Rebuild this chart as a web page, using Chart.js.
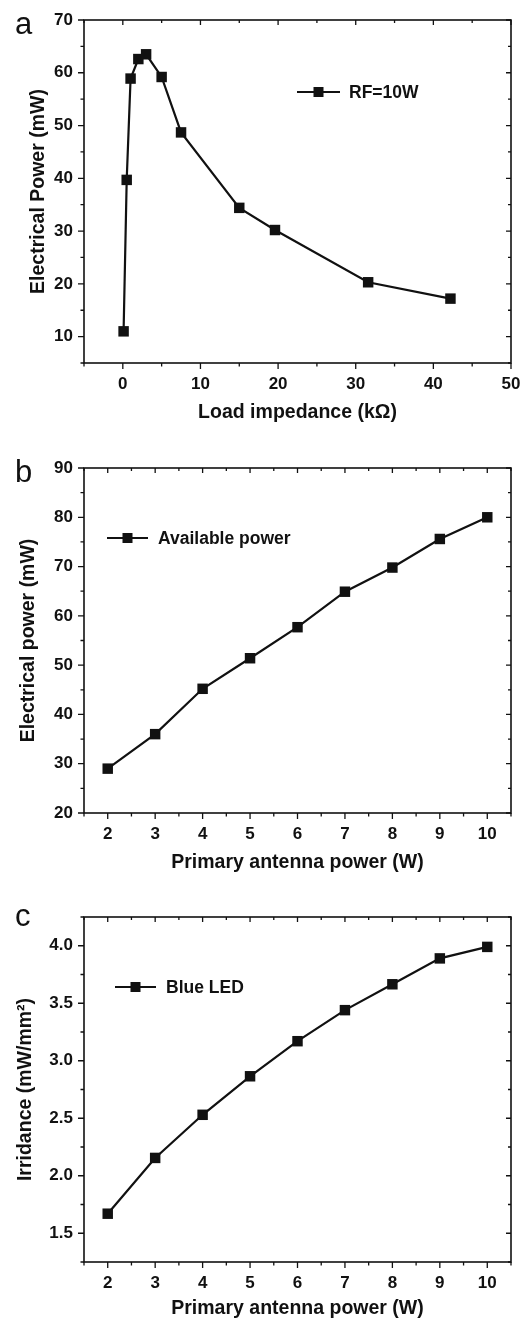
<!DOCTYPE html>
<html>
<head>
<meta charset="utf-8">
<script src="https://cdn.jsdelivr.net/npm/chart.js@4.4.1/dist/chart.umd.min.js"></script>
<style>
  body { margin: 0; background: #fff; width: 524px; height: 1319px; position: relative; overflow: hidden;
         font-family: 'Liberation Sans', Arial, sans-serif; }
  canvas { position: absolute; left: 0; }
  .tag { position: absolute; left: 15px; font-size: 31px; line-height: 31px; color: #111; }
</style>
</head>
<body>
<canvas id="chartA" width="524" height="440" style="top:0px"></canvas>
<canvas id="chartB" width="524" height="440" style="top:440px"></canvas>
<canvas id="chartC" width="524" height="439" style="top:880px"></canvas>
<div class="tag" style="top:8px">a</div>
<div class="tag" style="top:456px">b</div>
<div class="tag" style="top:900px">c</div>
<script>
// Panel a: power vs load impedance
const impedanceK = [0.1, 0.5, 1, 2, 3, 5, 7.5, 15, 19.6, 31.6, 42.2];
const powerRF10 = [11.0, 39.7, 58.9, 62.6, 63.5, 59.2, 48.7, 34.4, 30.2, 20.3, 17.2];
const axisA_x = [-5, 50, 10, 5];   // min, max, major, minor
const axisA_y = [5, 70, 10, 5];

// Panel b + c: vs primary antenna power
const antennaPower = [2, 3, 4, 5, 6, 7, 8, 9, 10];
const availablePower = [29.0, 36.0, 45.2, 51.4, 57.7, 64.9, 69.8, 75.6, 80.0];
const blueLedIrradiance = [1.67, 2.155, 2.53, 2.865, 3.17, 3.44, 3.665, 3.89, 3.99];
const axisB_x = [1.5, 10.5, 1, 0.5];
const axisB_y = [20, 90, 10, 5];
const axisC_y = [1.25, 4.25, 0.5, 0.25];

const FONT = "'Liberation Sans', Arial, sans-serif";
const INK = '#111';

// major tick values inside [min, max]
function majorTicks(ax) {
  const out = [];
  for (let v = Math.ceil(ax[0] / ax[2] - 1e-9) * ax[2]; v <= ax[1] + 1e-9; v += ax[2]) {
    out.push({ value: +v.toFixed(6) });
  }
  return out;
}

// frame box + Origin-style ticks (outward on left/bottom, inward on top/right)
const frameTicks = {
  id: 'frameTicks',
  afterDraw(chart, args, opts) {
    const {ctx, chartArea: a, scales: {x, y}} = chart;
    ctx.save();
    ctx.strokeStyle = INK;
    ctx.lineWidth = 1.6;
    ctx.strokeRect(a.left, a.top, a.right - a.left, a.bottom - a.top);
    ctx.lineWidth = 1.3;
    ctx.beginPath();
    const isMajor = (v, m) => Math.abs(v / m - Math.round(v / m)) < 1e-6;
    let start = Math.ceil(x.min / opts.x[3] - 1e-9) * opts.x[3];
    for (let v = start; v <= x.max + 1e-9; v += opts.x[3]) {
      const px = x.getPixelForValue(v);
      const big = isMajor(v, opts.x[2]);
      ctx.moveTo(px, a.bottom); ctx.lineTo(px, a.bottom + (big ? 6 : 3.5));
      ctx.moveTo(px, a.top); ctx.lineTo(px, a.top + (big ? 5 : 3));
    }
    start = Math.ceil(y.min / opts.y[3] - 1e-9) * opts.y[3];
    for (let v = start; v <= y.max + 1e-9; v += opts.y[3]) {
      const py = y.getPixelForValue(v);
      const big = isMajor(v, opts.y[2]);
      ctx.moveTo(a.left, py); ctx.lineTo(a.left - (big ? 6 : 3.5), py);
      ctx.moveTo(a.right, py); ctx.lineTo(a.right - (big ? 5 : 3), py);
    }
    ctx.stroke();

    // legend: line - square - line, then label
    const lg = opts.legend;
    ctx.lineWidth = 2;
    ctx.beginPath();
    ctx.moveTo(lg.x1, lg.y); ctx.lineTo(lg.x2, lg.y);
    ctx.stroke();
    ctx.fillStyle = INK;
    const mid = (lg.x1 + lg.x2) / 2;
    ctx.fillRect(mid - 5, lg.y - 5, 10, 10);
    ctx.font = 'bold 17.5px ' + FONT;
    ctx.textBaseline = 'middle';
    ctx.fillText(lg.text, lg.textX, lg.y + 1);
    ctx.restore();
  }
};

function makePanel(id, xs, ys, label, xAxis, yAxis, xTitle, yTitle, sizes, legendPos, yFmt) {
  const ctx = document.getElementById(id).getContext('2d');
  return new Chart(ctx, {
    type: 'line',
    data: {
      datasets: [{
        label: label,
        data: xs.map((v, i) => ({x: v, y: ys[i]})),
        borderColor: INK,
        backgroundColor: INK,
        borderWidth: 2.2,
        pointStyle: 'rect',
        pointRadius: 7.4,
        pointBorderWidth: 0,
        tension: 0
      }]
    },
    options: {
      responsive: false,
      devicePixelRatio: 1,
      animation: false,
      layout: { padding: { top: sizes.top, right: 13, left: 0, bottom: 0 } },
      plugins: {
        legend: { display: false },
        tooltip: { enabled: false },
        frameTicks: { x: xAxis, y: yAxis, legend: legendPos }
      },
      scales: {
        x: {
          type: 'linear',
          min: xAxis[0], max: xAxis[1],
          grid: { display: false, drawTicks: false },
          border: { display: false },
          ticks: { color: INK, padding: 11, maxRotation: 0,
                   font: { family: FONT, size: 17, weight: 'bold' } },
          title: { display: true, text: xTitle, color: INK,
                   font: { family: FONT, size: 19.5, weight: 'bold', lineHeight: 1 },
                   padding: { top: 0, bottom: sizes.xTitlePad } },
          afterBuildTicks: s => { s.ticks = majorTicks(xAxis); },
          afterFit: s => { s.height = sizes.xAxisH; s.paddingLeft = 0; s.paddingRight = 0; }
        },
        y: {
          min: yAxis[0], max: yAxis[1],
          grid: { display: false, drawTicks: false },
          border: { display: false },
          ticks: { color: INK, padding: 11,
                   font: { family: FONT, size: 17, weight: 'bold' },
                   callback: yFmt },
          title: { display: true, text: yTitle, color: INK,
                   font: { family: FONT, size: 19.5, weight: 'bold', lineHeight: 1 },
                   padding: { top: sizes.yTitlePad, bottom: 0 } },
          afterBuildTicks: s => { s.ticks = majorTicks(yAxis); },
          afterFit: s => { s.width = 84; s.paddingTop = 0; s.paddingBottom = 0; }
        }
      }
    },
    plugins: [frameTicks]
  });
}

makePanel('chartA', impedanceK, powerRF10, 'RF=10W', axisA_x, axisA_y,
  'Load impedance (k\u03A9)', 'Electrical Power (mW)',
  { top: 20, xAxisH: 77, xTitlePad: 17.5, yTitlePad: 29 },
  { x1: 297, x2: 340, y: 92, text: 'RF=10W', textX: 349 },
  v => v);

makePanel('chartB', antennaPower, availablePower, 'Available power', axisB_x, axisB_y,
  'Primary antenna power (W)', 'Electrical power (mW)',
  { top: 28, xAxisH: 67, xTitlePad: 7.5, yTitlePad: 19 },
  { x1: 107, x2: 148, y: 98, text: 'Available power', textX: 158 },
  v => v);

makePanel('chartC', antennaPower, blueLedIrradiance, 'Blue LED', axisB_x, axisC_y,
  'Primary antenna power (W)', 'Irridance (mW/mm\u00B2)',
  { top: 37, xAxisH: 57, xTitlePad: 0.5, yTitlePad: 16 },
  { x1: 115, x2: 156, y: 107, text: 'Blue LED', textX: 166 },
  v => v.toFixed(1));
</script>
</body>
</html>
